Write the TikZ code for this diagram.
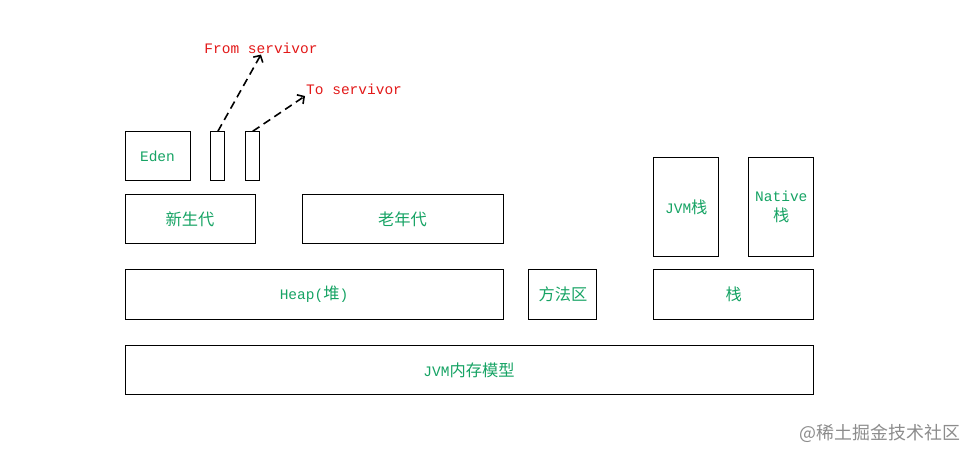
\documentclass[tikz,border=0pt]{standalone}
\usepackage{fontspec}
\setmonofont{Liberation Mono}
\newfontfamily\cjk[Scale=1.12]{Noto Sans CJK SC}
\usepackage{tikz}
\usetikzlibrary{arrows.meta,positioning}
\definecolor{napis}{RGB}{22,163,100}
\definecolor{czerwony}{RGB}{226,24,24}

\begin{document}
\begin{tikzpicture}[x=1pt, y=-1pt]
\tikzset{
    %czubek strzalki
    >={Straight Barb[length=5pt,width=11pt]},
    %styl pudelka
    pudlo/.style={
           rectangle,
           draw=black, line width=0.9pt,
           text=napis,
           font=\ttfamily\fontsize{14.5}{16}\selectfont,
           inner sep=0pt,
           minimum height=49pt,
           align=center},
    %styl podpisu
    opis/.style={
           text=czerwony, inner sep=1pt,
           font=\ttfamily\fontsize{14.5}{16}\selectfont}
}
\useasboundingbox (0,0) rectangle (976,455);

%Pudla
\node(heap)  [pudlo, minimum width=378pt, minimum height=50pt] at (314,294.5) {Heap({\cjk 堆})};
\node(metoda)[pudlo, minimum width=68pt, minimum height=50pt, right=25pt of heap] {\cjk 方法区};
\node(stos)  [pudlo, minimum width=160pt, minimum height=50pt, right=56pt of metoda] {\cjk 栈};
\node(jvm)   [pudlo, minimum width=688pt, below right=25pt and 0pt of heap.south west] {JVM{\cjk 内存模型}};

\node(mlode) [pudlo, minimum width=130pt, above right=25pt and 0pt of heap.north west] {\cjk 新生代};
\node(stare) [pudlo, minimum width=201pt, above left=25pt and 0pt of heap.north east] {\cjk 老年代};
\node(eden)  [pudlo, minimum width=65pt, above right=13pt and 0pt of mlode.north west] {Eden};
\node(surv1) [pudlo, minimum width=14pt, right=20pt of eden] {};
\node(surv2) [pudlo, minimum width=14pt, right=20pt of surv1] {};

\node(jvmstos)[pudlo, minimum width=65pt, minimum height=99pt, above right=12pt and 0pt of stos.north west] {JVM{\cjk 栈}};
\node(natstos)[pudlo, minimum width=65pt, minimum height=99pt, above left=12pt and 0pt of stos.north east] {Native\\[4pt]{\cjk 栈}};

%Podpisy
\node(from) [opis] at (261,48) {From servivor};
\node(to)   [opis, anchor=south west] at (305,96) {To servivor};

%Strzalki
\draw[->,line width=1.6pt,dash pattern=on 8pt off 5pt] (surv1.north) -- (from.south);
\draw[->,line width=1.6pt,dash pattern=on 8pt off 5pt] (surv2.north) -- (to.south west);

%znak wodny
\node(znak) [text=black!45, font=\cjk\fontsize{16}{18}\selectfont] at (880,433) {@稀土掘金技术社区};
\end{tikzpicture}
\end{document}
